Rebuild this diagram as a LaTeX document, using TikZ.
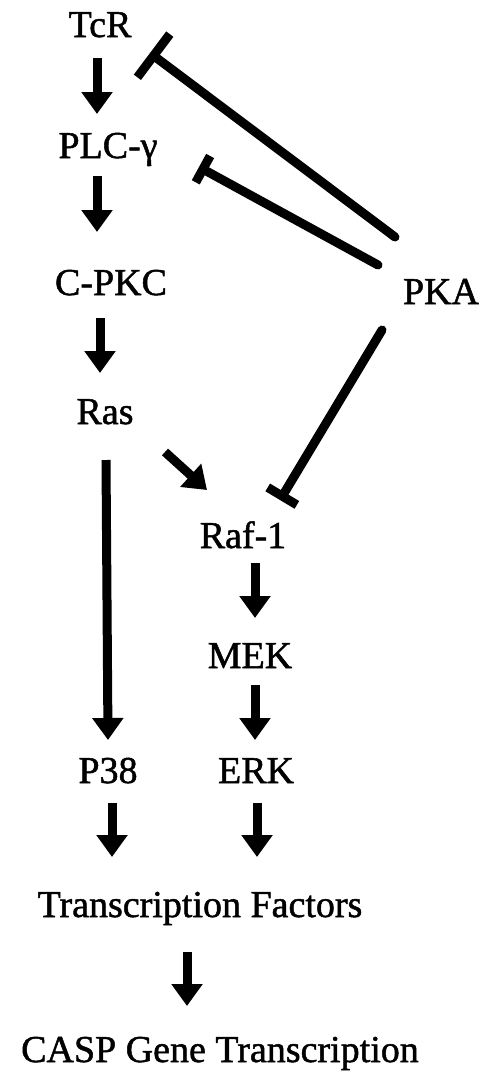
\documentclass[tikz,border=0pt]{standalone}
\usepackage{fontspec}
\newfontfamily\protfont{Liberation Serif}[FakeBold=1.3]
\usetikzlibrary{arrows.meta}

\tikzset{
  prot/.style={font=\protfont\fontsize{38}{44}\selectfont, inner sep=0pt, anchor=base},
  act/.style={line width=9pt, -{Triangle[width=30pt,length=22pt]}},
  inh/.style={line width=9pt, line cap=round, -{Bar[width=#1]}},
}

\begin{document}
\begin{tikzpicture}[x=1pt,y=-1pt]
  \useasboundingbox (0,0) rectangle (481,1072);

  \node[prot] (tcr)  at (100,37)   {TcR};
  \node[prot] (plc)  at (108,158)  {PLC-γ};
  \node[prot] (cpkc) at (111,295)  {C-PKC};
  \node[prot] (pka)  at (441,304)  {PKA};
  \node[prot] (ras)  at (105,424)  {Ras};
  \node[prot] (raf)  at (243,548)  {Raf-1};
  \node[prot] (mek)  at (250,668)  {MEK};
  \node[prot] (p38)  at (108,783)  {P38};
  \node[prot] (erk)  at (256,783)  {ERK};
  \node[prot] (tf)   at (200,917)  {Transcription Factors};
  \node[prot] (casp) at (220,1062) {CASP Gene Transcription};

  % activation arrows (offsets from the baselines)
  \foreach \from/\to/\p/\q in {tcr/plc/{-3,21}/{-11,-44},
      plc/cpkc/{-11,18}/{-14,-63}, cpkc/ras/{-11,23}/{-5,-51},
      ras/p38/{1,36}/{0,-43}, ras/raf/{60,28}/{-36,-58},
      raf/mek/{12,15}/{5,-50}, mek/erk/{5,17}/{-1,-43},
      p38/tf/{4,20}/{-88,-60}, erk/tf/{1,20}/{57,-60},
      tf/casp/{-13,35}/{-33,-56}}
    \draw[act] ([shift={(\p)}]\from.base) -- ([shift={(\q)}]\to.base);

  % inhibition by PKA
  \foreach \to/\p/\q/\w in {tcr/{-46,-67}/{50,16}/54pt,
      plc/{-63,-39}/{91,9}/30pt, raf/{-59,26}/{37,-48}/34pt}
    \draw[inh=\w] ([shift={(\p)}]pka.base) -- ([shift={(\q)}]\to.base);
\end{tikzpicture}
\end{document}
